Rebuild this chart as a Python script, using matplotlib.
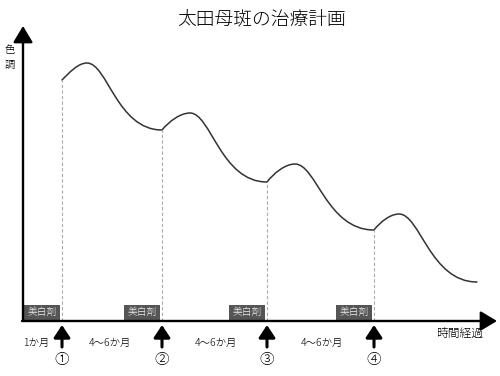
import matplotlib
matplotlib.use("Agg")
import matplotlib.pyplot as plt
from matplotlib.path import Path
from matplotlib.patches import PathPatch, Rectangle

plt.rcParams['font.family'] = ['Noto Sans CJK JP', 'DejaVu Sans']
plt.rcParams['font.weight'] = 'light'

# ---- data (time on x, colour tone on y; arbitrary units) ----
title = "太田母斑の治療計画"
y_label = "色\n調"
x_label = "時間経過"
treat_times = [39, 139, 244, 351]          # laser treatment moments
treat_marks = ["①", "②", "③", "④"]
interval_x = [13.5, 87, 193, 299]
interval_labels = ["1か月", "4〜6か月", "4〜6か月", "4〜6か月"]
cream_label = "美白剤"
cream_len = 36                              # length of whitening-cream period
# curve key points: start, peak, min, peak, min, peak, min, peak, end
curve_x = [39, 64, 139, 167, 244, 272, 351, 376, 454]
curve_y = [241, 258, 191, 208, 139, 157, 91, 107, 39]
x_max, y_max = 474, 295

fig = plt.figure(figsize=(5.0, 3.76), dpi=100)
ax = fig.add_axes([0, 0, 1, 1])
ax.set_xlim(-23, 477)
ax.set_ylim(-55, 321)
ax.axis('off')

# ---- smooth curve through the key points (Bezier, flat tangents at extremes) ----
verts = [(curve_x[0], curve_y[0])]
codes = [Path.MOVETO]
n = len(curve_x)
for i in range(n - 1):
    x0, y0 = curve_x[i], curve_y[i]
    x1, y1 = curve_x[i + 1], curve_y[i + 1]
    dx = x1 - x0
    if i == 0:
        c1 = (x0 + dx * 0.3, y0 + (y1 - y0) * 0.45)
        c2 = (x1 - dx * 0.35, y1)
    elif y1 < y0:  # descending: fast drop then slow flattening
        c1 = (x0 + dx * 0.27, y0)
        c2 = (x1 - dx * 0.6, y1)
    else:          # quick rebound after treatment
        c1 = (x0 + dx * 0.25, y0 + (y1 - y0) * 0.5)
        c2 = (x1 - dx * 0.35, y1)
    verts += [c1, c2, (x1, y1)]
    codes += [Path.CURVE4] * 3
ax.add_patch(PathPatch(Path(verts, codes), fill=False, edgecolor='#333333',
                       lw=1.1, capstyle='round'))

# ---- dashed guides at treatment moments ----
for t in treat_times:
    yv = curve_y[curve_x.index(t)]
    ax.plot([t, t], [0, yv], color='#aaaaaa', lw=0.8, ls=(0, (3, 2)), zorder=1)

# ---- whitening cream boxes ----
for t in treat_times:
    ax.add_patch(Rectangle((t - cream_len - 2, 0.5), cream_len, 16,
                           facecolor='#555555', edgecolor='none', zorder=2))
    ax.text(t - 2 - cream_len / 2, 8.5, cream_label, color='#eeeeee', fontsize=7,
            ha='center', va='center', zorder=3)

# ---- axes arrows ----
arr = dict(arrowstyle='-|>,head_length=0.5,head_width=0.3', lw=1.7,
           color='black', mutation_scale=20, shrinkA=0, shrinkB=0)
ax.annotate('', xy=(0, y_max), xytext=(0, 0), arrowprops=arr)
ax.annotate('', xy=(x_max, 0), xytext=(-1, 0), arrowprops=arr)

# ---- treatment arrows, numbers and intervals ----
small = dict(arrowstyle='-|>,head_length=0.5,head_width=0.33', lw=2.2,
             color='black', mutation_scale=15, shrinkA=0, shrinkB=0)
for t, m in zip(treat_times, treat_marks):
    ax.annotate('', xy=(t, -4), xytext=(t, -26), arrowprops=small)
    ax.text(t, -39, m, fontsize=10.5, ha='center', va='center')
for xv, lab in zip(interval_x, interval_labels):
    ax.text(xv, -22.5, lab, fontsize=7.5, ha='center', va='center')

ax.text(437, -12, x_label, fontsize=8.5, ha='center', va='center')
ax.text(-13, 263, y_label, fontsize=7.5, ha='center', va='center', linespacing=1.4)
ax.text(239, 302, title, fontsize=13.5, ha='center', va='center')

fig.savefig("out.png", dpi=100)
